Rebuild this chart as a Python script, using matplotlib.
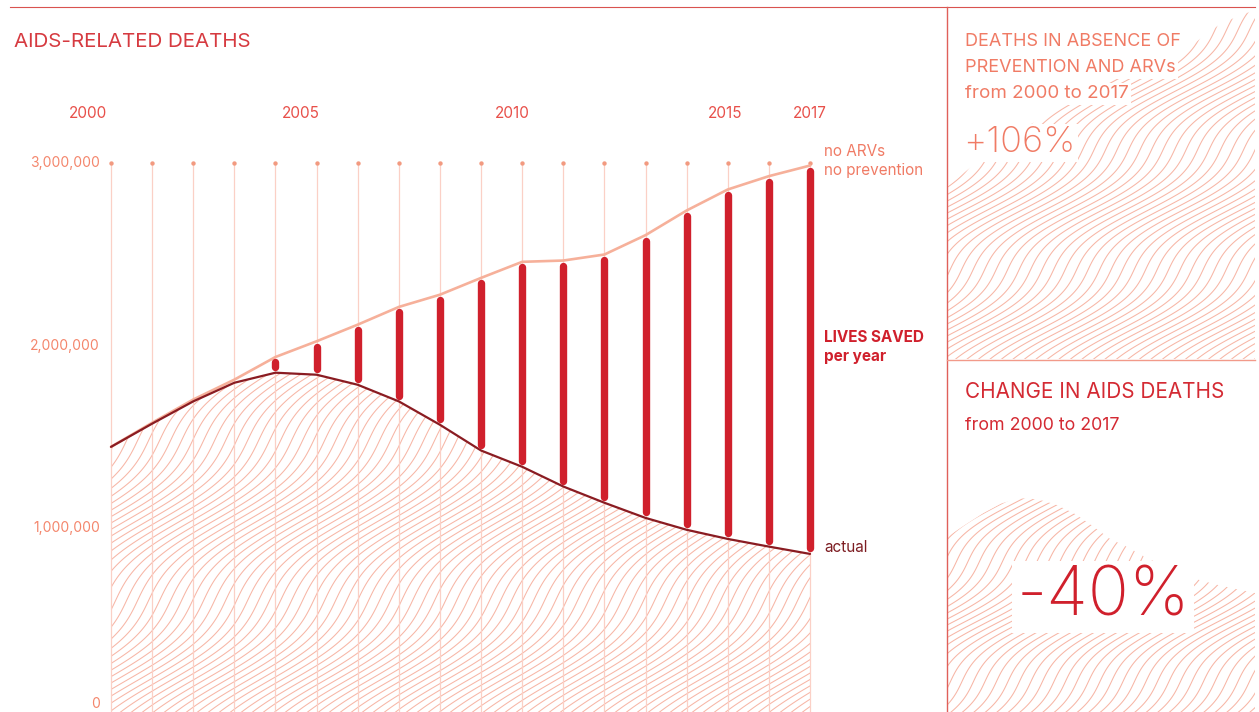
import numpy as np
import matplotlib
matplotlib.use("Agg")
import matplotlib.pyplot as plt
from matplotlib.collections import LineCollection

plt.rcParams['font.family'] = ['Inter', 'DejaVu Sans']

# ---------------- data ----------------
years = list(range(2000, 2018))
no_arv = [1.446, 1.578, 1.705, 1.814, 1.938, 2.024, 2.115, 2.212, 2.279, 2.371,
          2.459, 2.466, 2.499, 2.605, 2.740, 2.855, 2.928, 2.986]          # millions
actual = [1.446, 1.573, 1.695, 1.797, 1.852, 1.841, 1.786, 1.695, 1.567, 1.426,
          1.337, 1.229, 1.140, 1.057, 0.992, 0.942, 0.900, 0.860]          # millions
label_years = [2000, 2005, 2010, 2015, 2017]
y_ticks = [0, 1_000_000, 2_000_000, 3_000_000]
y_tick_labels = ["0", "1,000,000", "2,000,000", "3,000,000"]
bar_start_year = 2003

no_arv = np.array(no_arv) * 1e6
actual = np.array(actual) * 1e6
years_a = np.array(years)

# ---------------- colours ----------------
C_GRID = '#fbd0c6'
C_DOT = '#f29a80'
C_NOARV = '#f6b09a'
C_ACTUAL = '#8a1c22'
C_BAR = '#d0202c'
C_HATCH = '#f7b6a6'
C_TITLE = '#d63a40'
C_YEAR = '#e8504a'
C_YTICK = '#f4866c'
C_SALMON = '#f07b65'
C_RED = '#d42a33'

W, H = 1259, 712
fig = plt.figure(figsize=(W / 100, H / 100), dpi=100)
fig.patch.set_facecolor('white')


def px_rect(x0, y0, x1, y1):
    return [x0 / W, 1 - y1 / H, (x1 - x0) / W, (y1 - y0) / H]


# texture / annotation layer in pixel coordinates
ax_tex = fig.add_axes([0, 0, 1, 1], zorder=0)
ax_tex.set_xlim(0, W)
ax_tex.set_ylim(H, 0)
ax_tex.axis('off')

# main chart axes
ax = fig.add_axes(px_rect(0, 0, 947, 712), zorder=1)
ax.patch.set_alpha(0)
ax.axis('off')
ppy = (810 - 111) / (years[-1] - years[0])      # px per year
ppv = (711 - 163) / 3e6                          # px per death
ax.set_xlim(years[0] - 111 / ppy, years[0] + (947 - 111) / ppy)
ax.set_ylim(-(712 - 711) / ppv, 711 / ppv)
y_bottom = ax.get_ylim()[0]

# year label axis (slightly different spacing than the gridlines)
ax_yr = fig.add_axes(px_rect(0, 0, 947, 712), zorder=2)
ax_yr.patch.set_alpha(0)
ax_yr.axis('off')
ppy2 = (810 - 88) / (years[-1] - years[0])
ax_yr.set_xlim(years[0] - 88 / ppy2, years[0] + (947 - 88) / ppy2)
ax_yr.set_ylim(ax.get_ylim())
for yr in label_years:
    ax_yr.text(yr, (711 - 113) / ppv, str(yr), ha='center', va='center',
               fontsize=11, color=C_YEAR)

# gridlines and dots
ax.vlines(years, y_bottom, 3e6, color=C_GRID, lw=0.9, zorder=2)
ax.scatter(years, [3e6] * len(years), s=10, color=C_DOT, zorder=3,
           clip_on=False, linewidths=0)

# y tick labels
for v, lab in zip(y_ticks, y_tick_labels):
    ax.text(years[0] - 11 / ppy, v, lab, ha='right',
            va='bottom' if v == 0 else 'center', fontsize=10, color=C_YTICK)

# lines
ax.plot(years, no_arv, color=C_NOARV, lw=1.9, zorder=4, solid_capstyle='round')
ax.plot(years, actual, color=C_ACTUAL, lw=1.6, zorder=5, solid_capstyle='round')

# bars (lives saved)
gap = 5.5 / ppv
mask = years_a >= bar_start_year
lo = actual[mask] + gap
hi = no_arv[mask] - gap
mid = (actual[mask] + no_arv[mask]) / 2
lo2 = np.where(hi > lo, lo, mid - 0.3 / ppv)
hi2 = np.where(hi > lo, hi, mid + 0.3 / ppv)
ax.vlines(years_a[mask], lo2, hi2, color=C_BAR, lw=5.3, capstyle='round', zorder=6)

# hatch under actual line
poly_main = ax.fill_between(years, y_bottom, actual, facecolor='none', edgecolor='none')


def waves(spacing, k, amp, lam, phase=0.0):
    y = np.linspace(-10, H + 10, 800)
    segs = []
    for c in np.arange(-k * H - 60, W + 60, spacing):
        x = c + k * (H - y) + amp * np.sin(2 * np.pi * y / lam + phase)
        segs.append(np.column_stack([x, y]))
    return segs


lc_main = LineCollection(waves(11, 1.1, 16, 160, 1.56), colors=C_HATCH, linewidths=0.75)
ax_tex.add_collection(lc_main)
lc_main.set_clip_path(poly_main.get_paths()[0], ax.transData)

# right top panel hatch (shape of no-ARV curve)
ax_rt = fig.add_axes(px_rect(947, 10, 1255, 359), zorder=0.5)
ax_rt.patch.set_alpha(0)
ax_rt.axis('off')
ax_rt.set_xlim(years[0], years[-1])
b1 = (187 - 10) / (no_arv[-1] - no_arv[0])
ax_rt.set_ylim(no_arv[0] - (359 - 187) / b1, no_arv[0] + (187 - 10) / b1)
poly_rt = ax_rt.fill_between(years, ax_rt.get_ylim()[0], no_arv,
                             facecolor='none', edgecolor='none')
lc_rt = LineCollection(waves(11.5, 1.2, 14, 120, 4.71), colors=C_HATCH, linewidths=0.75)
ax_tex.add_collection(lc_rt)
lc_rt.set_clip_path(poly_rt.get_paths()[0], ax_rt.transData)

# right bottom panel hatch (shape of actual curve)
ax_rb = fig.add_axes(px_rect(947, 360, 1255, 712), zorder=0.5)
ax_rb.patch.set_alpha(0)
ax_rb.axis('off')
ax_rb.set_xlim(years[0], years[-1])
b2 = (593 - 537) / (actual[0] - actual[-1])
ax_rb.set_ylim(actual[0] - (712 - 537) / b2, actual[0] + (537 - 360) / b2)
poly_rb = ax_rb.fill_between(years, ax_rb.get_ylim()[0], actual,
                             facecolor='none', edgecolor='none')
lc_rb = LineCollection(waves(11.5, 1.2, 14, 120, 2.0), colors=C_HATCH, linewidths=0.75)
ax_tex.add_collection(lc_rb)
lc_rb.set_clip_path(poly_rb.get_paths()[0], ax_rb.transData)

# borders
ax_tex.plot([10, 1255], [7, 7], color='#d9534f', lw=0.8, zorder=3)
ax_tex.plot([947, 947], [7, 712], color='#e0605a', lw=1.0, zorder=3)
ax_tex.plot([947, 1255], [359.5, 359.5], color='#f29a8a', lw=1.0, zorder=3)

# title
ax_tex.text(14, 42, "AIDS-RELATED DEATHS", ha='left', va='center',
            fontsize=14.8, color=C_TITLE)

# series labels
ax_tex.text(824, 152, "no ARVs", ha='left', va='center', fontsize=11, color=C_SALMON)
ax_tex.text(824, 170, "no prevention", ha='left', va='center', fontsize=11, color=C_SALMON)
ax_tex.text(824, 338, "LIVES SAVED", ha='left', va='center', fontsize=11,
            fontweight='bold', color=C_BAR)
ax_tex.text(824, 357, "per year", ha='left', va='center', fontsize=11,
            fontweight='bold', color=C_BAR)
ax_tex.text(824, 547, "actual", ha='left', va='center', fontsize=11, color='#7d1d22')

# right panel texts
box = dict(facecolor='white', edgecolor='none', pad=1.5)
for txt, yy in [("DEATHS IN ABSENCE OF", 41), ("PREVENTION AND ARVs", 68),
                ("from 2000 to 2017", 94)]:
    ax_tex.text(965, yy, txt, ha='left', va='center',
                fontsize=13.5 if txt.startswith('from') else 13,
                color=C_SALMON, bbox=box, zorder=10)
ax_tex.text(963, 143, "+106%", ha='left', va='center', fontsize=26,
            fontweight='light', color=C_SALMON, bbox=box, zorder=10)

ax_tex.text(965, 392, "CHANGE IN AIDS DEATHS", ha='left', va='center', fontsize=14.9,
            color=C_RED, zorder=10)
ax_tex.text(965, 426, "from 2000 to 2017", ha='left', va='center', fontsize=12.8,
            color=C_RED, zorder=10)
ax_tex.text(1103, 597, "-40%", ha='center', va='center', fontsize=49,
            fontweight='light', color=C_BAR,
            bbox=dict(facecolor='white', edgecolor='none', pad=3), zorder=10)

fig.savefig("out.png", dpi=100)
